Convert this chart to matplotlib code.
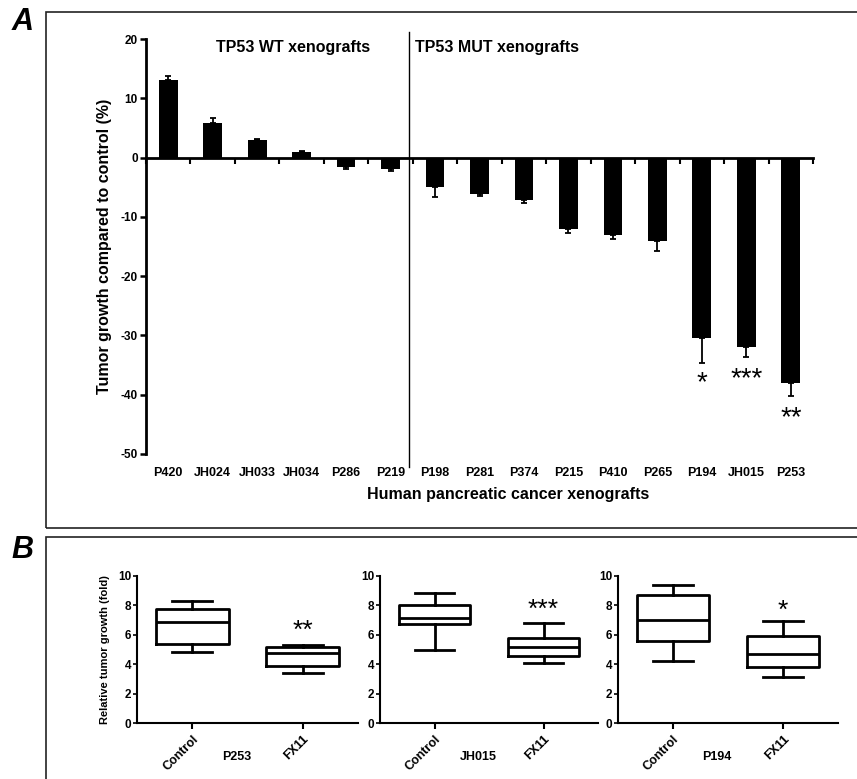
import matplotlib
matplotlib.use("Agg")
import matplotlib.pyplot as plt
import matplotlib.transforms as mtransforms
from matplotlib.patches import Rectangle

plt.rcParams['font.family'] = ['Liberation Sans', 'DejaVu Sans']
plt.rcParams['font.weight'] = 'bold'
plt.rcParams['axes.labelweight'] = 'bold'
plt.rcParams['axes.unicode_minus'] = False

# panel A data
xenografts = ["P420", "JH024", "JH033", "JH034", "P286", "P219",
              "P198", "P281", "P374", "P215", "P410", "P265", "P194", "JH015", "P253"]
growth = [13.0, 5.9, 3.0, 1.0, -1.6, -2.0,
          -5.0, -6.1, -7.1, -12.1, -13.1, -14.1, -30.5, -32.0, -38.0]
growth_err = [0.8, 0.8, 0.1, 0.1, 0.3, 0.3,
              1.6, 0.3, 0.6, 0.7, 0.7, 1.6, 4.2, 1.6, 2.2]
stars_a = {"P194": ("*", -38.0), "JH015": ("***", -37.3), "P253": ("**", -43.9)}

# panel B data (box stats)
models = ["P253", "JH015", "P194"]
groups = ["Control", "FX11"]
whis_lo = [[4.83, 3.40], [4.97, 4.08], [4.25, 3.15]]
q1 = [[5.37, 3.88], [6.73, 4.56], [5.55, 3.84]]
median = [[6.87, 4.76], [7.14, 5.17], [6.99, 4.66]]
q3 = [[7.76, 5.17], [8.03, 5.78], [8.70, 5.89]]
whis_hi = [[8.30, 5.30], [8.84, 6.80], [9.38, 6.92]]
stars_b = ["**", "***", "*"]
star_b_y = [6.3, 7.7, 7.6]

fig = plt.figure(figsize=(8.57, 7.79), dpi=100)
W, H = 857, 779

def fx(px):
    return px / W

def fy(py):
    return 1 - py / H

# panel frames
fig.patches.append(Rectangle((fx(46), fy(528)), 1.0, fy(12) - fy(528), transform=fig.transFigure,
                             fill=False, lw=1.2, ec='#222222'))
fig.patches.append(Rectangle((fx(46), -0.05), 1.0, fy(537) + 0.05, transform=fig.transFigure,
                             fill=False, lw=1.2, ec='#222222'))
fig.text(fx(12), fy(22), "A", fontsize=22, fontweight='bold', style='italic', va='center')
fig.text(fx(11), fy(550), "B", fontsize=22, fontweight='bold', style='italic', va='center')

# ---- panel A
axA = fig.add_axes([fx(146), fy(454), fx(813) - fx(146), fy(39) - fy(454)])
xs = list(range(len(xenografts)))
lower = [e if v < 0 else 0 for v, e in zip(growth, growth_err)]
upper = [e if v >= 0 else 0 for v, e in zip(growth, growth_err)]
axA.bar(xs, growth, width=0.42, color='black', zorder=2)
axA.errorbar(xs, growth, yerr=[lower, upper], fmt='none', ecolor='black',
             elinewidth=1.3, capsize=2.2, capthick=1.3, zorder=1)
axA.set_xlim(-0.5, 14.5)
axA.set_ylim(-50, 20)
axA.set_yticks([20, 10, 0, -10, -20, -30, -40, -50])
axA.tick_params(axis='y', labelsize=8.5, width=1.8, length=4, pad=2)
for s in ['top', 'right']:
    axA.spines[s].set_visible(False)
axA.spines['left'].set_linewidth(2)
axA.spines['bottom'].set_position(('data', 0))
axA.spines['bottom'].set_linewidth(2)
axA.set_xticks([x + 0.5 for x in range(-1, 15)])
axA.tick_params(axis='x', labelbottom=False, width=1.5, length=4, direction='out')
tr = mtransforms.blended_transform_factory(axA.transData, axA.transAxes)
for x, name in zip(xs, xenografts):
    axA.text(x, -0.045, name, transform=tr, ha='center', va='center', fontsize=9)
for name, (s, yv) in stars_a.items():
    axA.text(xenografts.index(name), yv, s, ha='center', va='center', fontsize=20,
             fontweight='normal')
axA.plot([5.42, 5.42], [21.2, -52.2], color='black', lw=1, clip_on=False)
axA.text(2.8, 18.5, "TP53 WT xenografts", ha='center', va='center', fontsize=11.5)
axA.text(7.4, 18.5, "TP53 MUT xenografts", ha='center', va='center', fontsize=11.5)
axA.set_ylabel("Tumor growth compared to control (%)", fontsize=11.5, labelpad=6)
fig.text(fx(508), fy(494), "Human pancreatic cancer xenografts", ha='center', va='center',
         fontsize=11.5)

# ---- panel B
b_left = [137, 380, 618]
b_right = [358, 598, 838]
for i, m in enumerate(models):
    ax = fig.add_axes([fx(b_left[i]), fy(723), fx(b_right[i]) - fx(b_left[i]), fy(576) - fy(723)])
    stats = []
    for j, g in enumerate(groups):
        stats.append(dict(label=g, whislo=whis_lo[i][j], q1=q1[i][j], med=median[i][j],
                          q3=q3[i][j], whishi=whis_hi[i][j], fliers=[]))
    ax.bxp(stats, positions=[1, 2], widths=0.66, showfliers=False,
           boxprops=dict(lw=2, color='black'), medianprops=dict(lw=2, color='black'),
           whiskerprops=dict(lw=2, color='black'), capprops=dict(lw=2, color='black'),
           capwidths=0.36)
    ax.set_xlim(0.5, 2.5)
    ax.set_ylim(0, 10)
    ax.set_yticks([0, 2, 4, 6, 8, 10])
    for s in ['top', 'right']:
        ax.spines[s].set_visible(False)
    ax.spines['left'].set_linewidth(1.5)
    ax.spines['bottom'].set_linewidth(1.5)
    ax.tick_params(axis='y', labelsize=8.5, width=1.2, length=3, pad=1)
    ax.tick_params(axis='x', labelsize=9, width=1.5, length=4)
    ax.set_xticks([1, 2])
    ax.set_xticklabels(groups, rotation=45, ha='right', rotation_mode='anchor')
    ax.text(1.4, -0.23, m, transform=mtransforms.blended_transform_factory(ax.transData, ax.transAxes),
            ha='center', va='center', fontsize=9)
    ax.text(2, star_b_y[i], stars_b[i], ha='center', va='center', fontsize=19,
            fontweight='normal')
    if i == 0:
        ax.set_ylabel("Relative tumor growth (fold)", fontsize=8, labelpad=6)

fig.savefig("out.png", dpi=100)
